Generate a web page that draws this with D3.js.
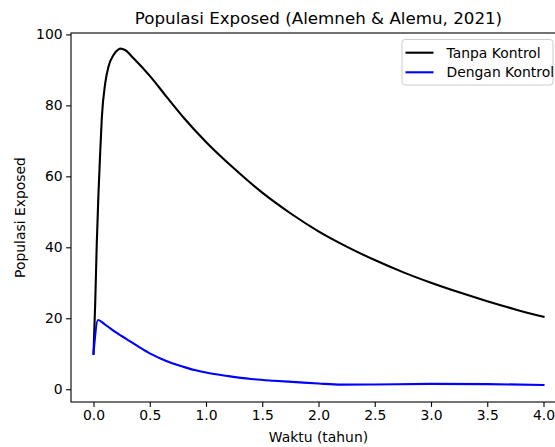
<!DOCTYPE html>
<html><head><meta charset="utf-8">
<script src="https://cdn.jsdelivr.net/npm/d3@7"></script>
<style>body{margin:0;background:#fff}svg{display:block;font-family:"DejaVu Sans",sans-serif}</style>
</head><body><svg id="c" width="555" height="447"></svg>
<script>
const title = "Populasi Exposed (Alemneh & Alemu, 2021)";
const xLabel = "Waktu (tahun)";
const yLabel = "Populasi Exposed";
const seriesNames = ["Tanpa Kontrol", "Dengan Kontrol"];
const seriesColors = ["#000000", "#0000ff"];
const xTicks = [0, 0.5, 1, 1.5, 2, 2.5, 3, 3.5, 4];
const yTicks = [0, 20, 40, 60, 80, 100];

const tanpaT = [0, 0.015, 0.029, 0.044, 0.06, 0.074, 0.104, 0.133, 0.178, 0.222, 0.24, 0.28, 0.358, 0.506, 0.65, 0.8, 1.0, 1.25, 1.5, 1.75, 2.0, 2.25, 2.5, 2.75, 3.0, 3.25, 3.5, 3.75, 4.0];
const tanpaV = [10, 24, 41, 55, 67, 76.5, 86.2, 90.9, 94.2, 95.8, 96.0, 95.6, 93.2, 88.1, 82.4, 76.6, 69.7, 62.2, 55.4, 49.6, 44.5, 40.2, 36.4, 33.0, 30.0, 27.3, 24.8, 22.5, 20.4];

const denganT = [0, 0.04, 0.1, 0.2, 0.25, 0.3, 0.4, 0.5, 0.6, 0.7, 0.8, 0.9, 1.0, 1.2, 1.4, 1.6, 1.8, 2.0, 2.2, 2.5, 3.0, 3.5, 4.0];
const denganV = [10, 19.5, 18.3, 16.0, 15.0, 14.0, 12.0, 10.1, 8.6, 7.3, 6.3, 5.4, 4.7, 3.7, 2.9, 2.4, 2.0, 1.6, 1.3, 1.35, 1.5, 1.45, 1.2];

const L = 71, R = 566, T = 33, B = 402;
const svg = d3.select("#c");
const x = d3.scaleLinear().domain([-0.2, 4.2]).range([L, R]);
const y = d3.scaleLinear().domain([-3.6, 100.4]).range([B, T]);

svg.append("defs").append("clipPath").attr("id", "clip")
  .append("rect").attr("x", L).attr("y", T).attr("width", R - L).attr("height", B - T);

const line = d3.line().x(d => x(d[0])).y(d => y(d[1])).curve(d3.curveMonotoneX);
const series = [d3.zip(tanpaT, tanpaV), d3.zip(denganT, denganV)];
const g = svg.append("g").attr("clip-path", "url(#clip)");
series.forEach((s, i) => {
  g.append("path").datum(s).attr("d", line).attr("fill", "none")
    .attr("stroke", seriesColors[i]).attr("stroke-width", 2.1)
    .attr("stroke-linejoin", "round").attr("stroke-linecap", "square");
});

// axes
const xAxis = d3.axisBottom(x).tickValues(xTicks).tickFormat(d3.format(".1f")).tickSizeOuter(0).tickSize(4.9).tickPadding(3.5);
const yAxis = d3.axisLeft(y).tickValues(yTicks).tickFormat(d3.format("d")).tickSizeOuter(0).tickSize(4.9).tickPadding(3.5);
const gx = svg.append("g").attr("transform", `translate(0,${B})`).call(xAxis);
const gy = svg.append("g").attr("transform", `translate(${L},0)`).call(yAxis);
[gx, gy].forEach(a => {
  a.select(".domain").remove();
  a.selectAll("line").attr("stroke", "#000").attr("stroke-width", 1.1);
  a.selectAll("text").attr("font-size", 13.9).attr("fill", "#000").attr("font-family", "DejaVu Sans");
});
// spines
svg.append("rect").attr("x", L).attr("y", T).attr("width", R - L).attr("height", B - T)
  .attr("fill", "none").attr("stroke", "#000").attr("stroke-width", 1.1);

svg.append("text").attr("x", (L + R) / 2).attr("y", 24).attr("text-anchor", "middle")
  .attr("font-size", 16.7).text(title);
svg.append("text").attr("x", (L + R) / 2).attr("y", 442).attr("text-anchor", "middle")
  .attr("font-size", 13.9).text(xLabel);
svg.append("text").attr("transform", `translate(25,${(T + B) / 2}) rotate(-90)`).attr("text-anchor", "middle")
  .attr("font-size", 13.9).text(yLabel);

// legend
const lg = svg.append("g");
lg.append("rect").attr("x", 402).attr("y", 39.5).attr("width", 151).attr("height", 45.5)
  .attr("rx", 3).attr("fill", "#fff").attr("fill-opacity", 0.8).attr("stroke", "#cccccc").attr("stroke-width", 1);
seriesNames.forEach((n, i) => {
  const yy = 52.7 + i * 19.6;
  lg.append("line").attr("x1", 405.5).attr("x2", 433.5).attr("y1", yy).attr("y2", yy)
    .attr("stroke", seriesColors[i]).attr("stroke-width", 2.1);
  lg.append("text").attr("x", 446.5).attr("y", yy).attr("dy", "0.36em").attr("font-size", 13.9).text(n);
});
</script></body></html>
